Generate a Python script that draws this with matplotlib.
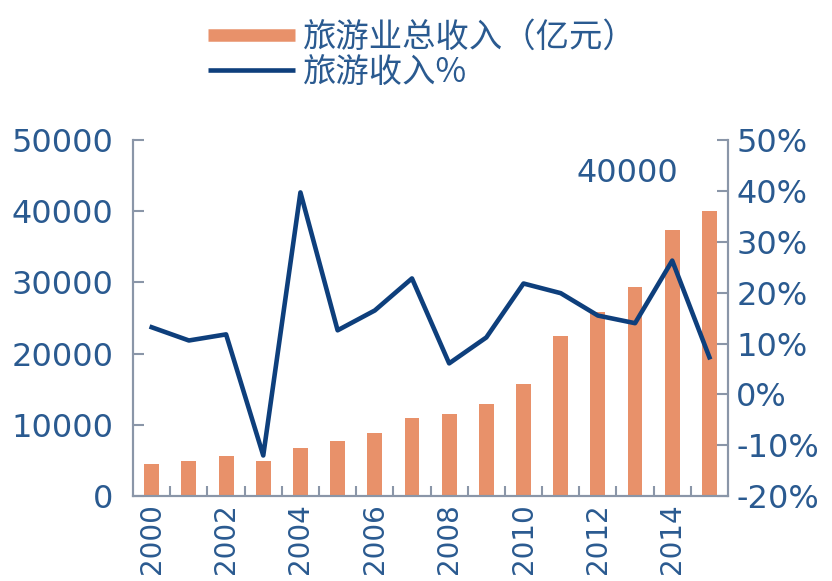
import matplotlib
matplotlib.use("Agg")
import matplotlib.pyplot as plt
from matplotlib.lines import Line2D
import numpy as np

years = list(range(2000, 2016))
revenue = [4500, 5000, 5600, 4900, 6800, 7700, 8900, 11000, 11600, 12900,
           15700, 22500, 25900, 29400, 37300, 40000]
growth = [13.2, 10.6, 11.8, -12.0, 39.7, 12.6, 16.5, 22.8, 6.1, 11.2,
          21.8, 19.9, 15.5, 14.0, 26.3, 7.3]
left_ticks = [0, 10000, 20000, 30000, 40000, 50000]
right_ticks = [-20, -10, 0, 10, 20, 30, 40, 50]
x_labels = [str(y) for y in years[::2]]

plt.rcParams['font.family'] = ['DejaVu Sans', 'Noto Sans CJK SC']

text_c = '#2a5a90'
bar_c = '#e8916a'
line_c = '#0e3f7c'
spine_c = '#8a96a8'

fig = plt.figure(figsize=(8.32, 5.81), dpi=100)
ax = fig.add_axes([0.160, 0.146, 0.715, 0.613])
ax2 = ax.twinx()

x = np.arange(len(years))
bars = ax.bar(x, revenue, width=0.40, color=bar_c, zorder=2)
ln, = ax2.plot(x, growth, color=line_c, lw=3.3, zorder=3)

ax.set_xlim(-0.5, len(years) - 0.5)
ax.set_ylim(0, 50000)
ax2.set_ylim(-20, 50)
ax.set_yticks(left_ticks)
ax.set_yticklabels([str(v) for v in left_ticks])
ax2.set_yticks(right_ticks)
ax2.set_yticklabels([f'{v}%' for v in right_ticks])

ax.set_xticks(x[::2])
ax.set_xticklabels(x_labels, rotation=90)
ax.set_xticks(np.arange(len(years) - 1) + 0.5, minor=True)

for a in (ax, ax2):
    a.spines['top'].set_visible(False)
    for s in ('left', 'right', 'bottom'):
        a.spines[s].set_color(spine_c)
        a.spines[s].set_linewidth(1.5)
ax.tick_params(axis='y', direction='in', length=8, color=spine_c, width=1.5,
               labelsize=23, labelcolor=text_c, pad=14)
ax2.tick_params(axis='y', direction='in', length=8, color=spine_c, width=1.5,
                labelsize=23, labelcolor=text_c, pad=6)
ax.tick_params(axis='x', which='major', length=0, labelsize=20, labelcolor=text_c, pad=5)
ax.tick_params(axis='x', which='minor', direction='in', length=7, color=spine_c, width=1.5)

ax.text(12.8, 45300, '40000', fontsize=23, color=text_c, ha='center', va='center')

bar_handle = Line2D([], [], color=bar_c, lw=9, solid_capstyle='butt')
line_handle = Line2D([], [], color=line_c, lw=3.3, solid_capstyle='butt')
fig.legend([bar_handle, line_handle], ['旅游业总收入（亿元）', '旅游收入%'],
           loc='upper left', bbox_to_anchor=(0.226, 1.0), frameon=False,
           prop={'family': ['Noto Sans CJK SC', 'DejaVu Sans'], 'size': 24},
           labelcolor=text_c, handlelength=2.6, handletextpad=0.25,
           labelspacing=0.0, borderaxespad=0.2)

fig.savefig('out.png', dpi=100)
